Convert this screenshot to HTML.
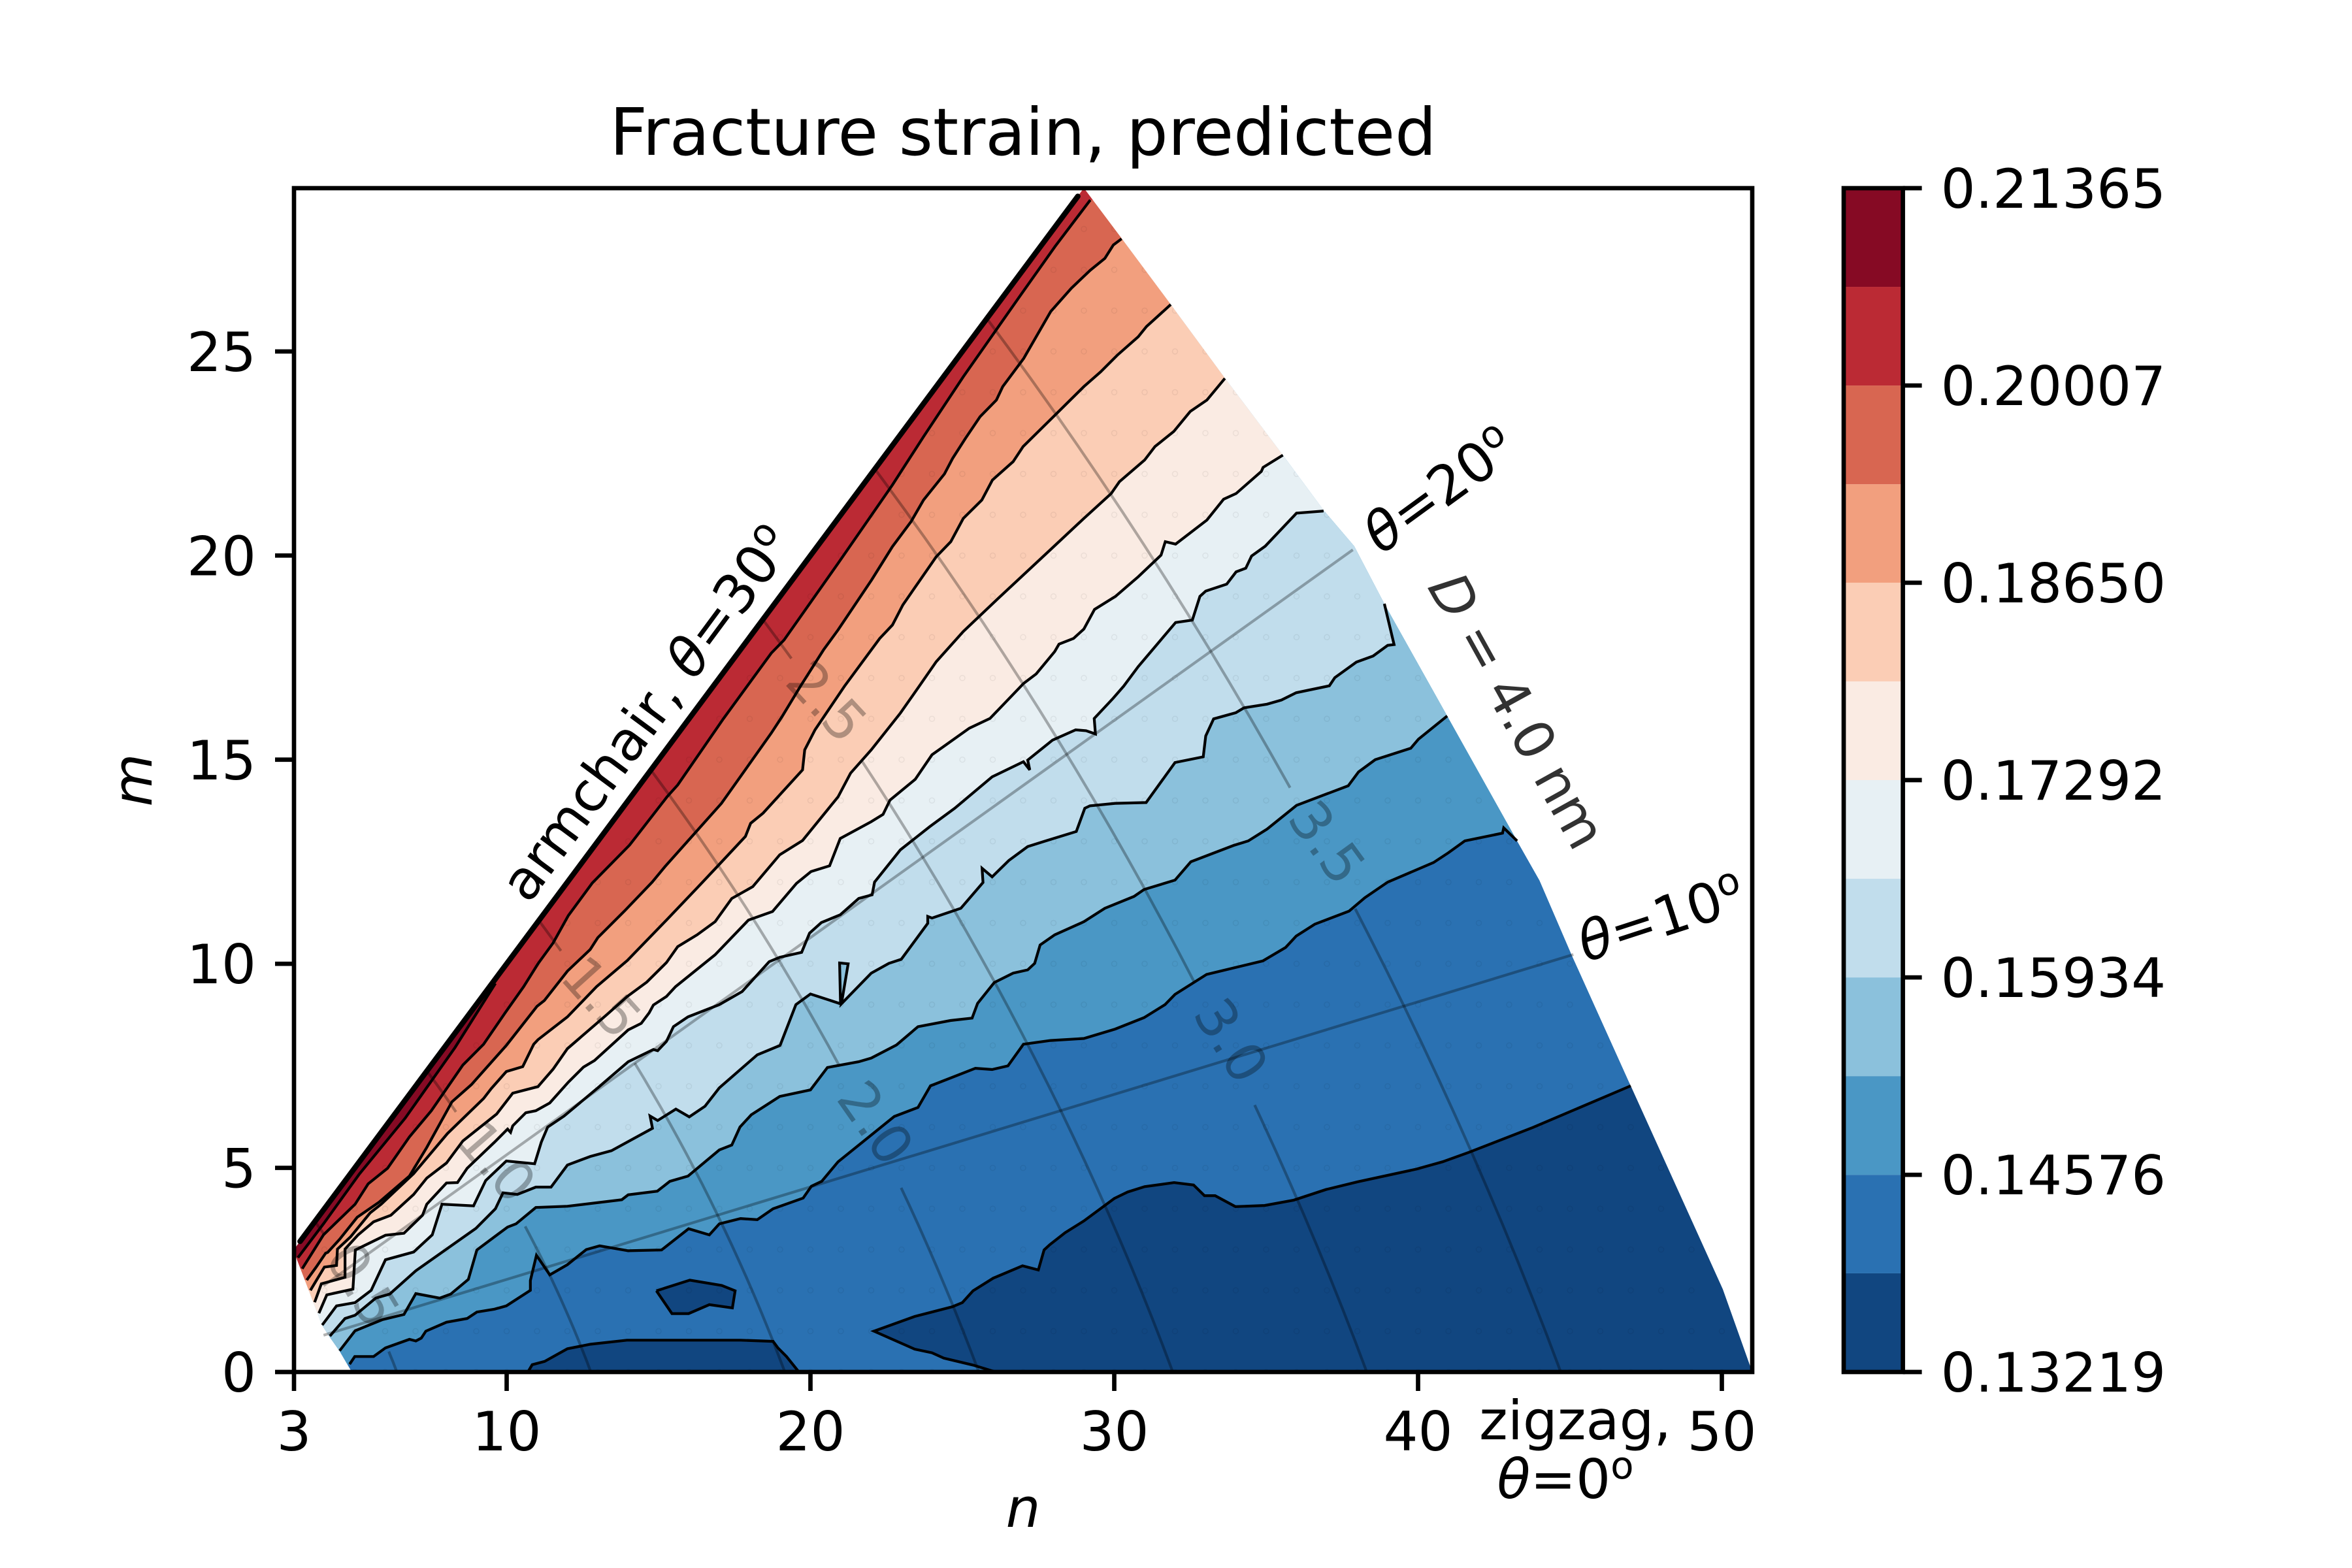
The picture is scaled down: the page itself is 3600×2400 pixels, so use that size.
<!DOCTYPE html>
<html lang="en">
<head>
<meta charset="utf-8">
<title>Fracture strain, predicted</title>
<style>
html,body{margin:0;padding:0;background:#fff;}
svg{display:block;}
text{font-family:"DejaVu Sans","Liberation Sans",sans-serif;fill:#000;}
</style>
</head>
<body>
<svg id="chart" xmlns="http://www.w3.org/2000/svg" width="3600" height="2400" viewBox="0 0 3600 2400">
  <rect x="0" y="0" width="3600" height="2400" fill="#fff"/>
  <defs><clipPath id="domain-clip"><path id="domain-clip-path"/></clipPath></defs>
  <g id="fills" clip-path="url(#domain-clip)"></g>
  <g id="points" clip-path="url(#domain-clip)"></g>
  <g id="lines"></g>
  <g id="guides"></g>
  <g id="guide-labels"></g>
  <g id="axes"></g>
  <g id="colorbar"></g>

  <text x="1566" y="237" font-size="100" text-anchor="middle">Fracture strain, predicted</text>
  <text x="1566" y="2337" font-size="83.33" font-style="italic" text-anchor="middle">n</text>
  <text transform="translate(232,1194) rotate(-90)" font-size="83.33" font-style="italic" text-anchor="middle">m</text>

  <text transform="translate(809,1385) rotate(-53.5)" font-size="83.33">armchair, <tspan font-style="italic">θ</tspan>=30<tspan dy="-30" font-size="58">o</tspan></text>
  <text transform="translate(2114,850) rotate(-36)" font-size="83.33"><tspan font-style="italic">θ</tspan>=20<tspan dy="-30" font-size="58">o</tspan></text>
  <text transform="translate(2427,1473) rotate(-18)" font-size="83.33"><tspan font-style="italic">θ</tspan>=10<tspan dy="-30" font-size="58">o</tspan></text>
  <text transform="translate(2184,898) rotate(61)" font-size="83.33" letter-spacing="-1.5" opacity="0.8"><tspan font-style="italic">D</tspan> = 4.0 nm</text>
  <text x="2411" y="2203" font-size="83.33" text-anchor="middle">zigzag,</text>
  <text x="2396" y="2293" font-size="83.33" text-anchor="middle"><tspan font-style="italic">θ</tspan>=0<tspan dy="-30" font-size="58">o</tspan></text>
</svg>

<script>
// ---- chart data (n, m chirality indices) ----
const xTicks = [3, 10, 20, 30, 40, 50];
const yTicks = [0, 5, 10, 15, 20, 25];
const colorLevels = [0.13219, 0.13898, 0.14576, 0.15255, 0.15934, 0.16613, 0.17292, 0.17971, 0.18650, 0.19328, 0.20007, 0.20686, 0.21365];
const colorTicks = ['0.13219', '0.14576', '0.15934', '0.17292', '0.18650', '0.20007', '0.21365'];
const bandColors = ['#114680', '#2a71b2', '#4a97c5', '#8bc1dc', '#c1ddec', '#e7f0f4', '#faebe3', '#fbcdb5', '#f29f7e', '#d86651', '#bb2a34', '#860a24'];

const domainBoundary = [[3,3],[29,29],[30.24,27.77],[31.86,26.15],[33.65,24.34],[35.54,22.47],[36.89,21.11],[37.9,20.23],[38.89,18.82],[40.96,16.07],[43.26,13.01],[44,12.04],[45.06,10.21],[46.4,8],[47,7.01],[50.03,2.03],[51,0],[4.9,0],[4.5,0.51],[4.18,0.85],[3.92,1.15],[3.5,1.97],[3.09,2.77]];

const islandA = [[10.7,0],[10.84,0.18],[11.25,0.26],[12,0.57],[12.76,0.68],[13.96,0.78],[14.96,0.78],[16.74,0.78],[17.7,0.78],[18.77,0.75],[18.93,0.59],[19.21,0.38],[19.62,0]];
const islandB = [[14.93,1.99],[16.03,2.25],[17.08,2.12],[17.52,1.99],[17.43,1.57],[16.67,1.65],[15.99,1.43],[15.44,1.43],[14.93,1.99]];
const islandC = [[26.1,0],[25.35,0.17],[24.39,0.34],[24,0.47],[23.43,0.56],[22.09,1],[23.43,1.36],[24,1.47],[24.68,1.6],[25,1.7],[25.35,1.99],[26.02,2.3],[26.98,2.6],[27.5,2.5],[27.69,2.99],[27.88,3.12],[28.38,3.41],[29,3.7],[30,4.25],[30.44,4.41],[31,4.54],[31.97,4.64],[32.61,4.58],[32.97,4.32],[33.32,4.32],[33.99,4.05],[34.95,4.08],[35.91,4.21],[36.97,4.47],[38.02,4.66],[39.94,4.97],[40.81,5.15],[41.67,5.38],[43.78,5.99],[47,7.01]];

const contour2 = [[4.83,0.19],[5,0.38],[5.62,0.38],[6.01,0.59],[6.8,0.8],[7.01,0.76],[7.19,0.83],[7.34,1],[8.02,1.22],[8.7,1.31],[9.02,1.47],[9.6,1.54],[9.99,1.62],[10.78,2],[10.78,2.24],[10.98,2.86],[11.42,2.38],[12,2.63],[12.62,3],[13.06,3.09],[14,2.97],[15.1,2.99],[15.99,3.51],[16.67,3.36],[17,3.63],[17.7,3.76],[18.25,3.73],[18.77,4],[19.76,4.26],[20.03,4.55],[20.37,4.67],[20.91,5.15],[22.76,6.26],[23.54,6.48],[23.95,7.01],[25.43,7.44],[25.98,7.41],[26.5,7.5],[27.01,8.03],[27.9,8.12],[29,8.17],[30.03,8.4],[30.98,8.68],[31.67,9],[32,9.25],[33.04,9.74],[34.89,10.07],[35.64,10.4],[35.99,10.68],[36.6,10.97],[37.73,11.29],[38.25,11.62],[39,12],[40.51,12.48],[41,12.72],[41.54,13.01],[42.78,13.2],[42.82,13.33],[43.26,13.01]];
const contour3 = [[4.5,0.52],[5.01,1.01],[5.9,1.28],[6.62,1.41],[7.01,1.92],[7.8,1.81],[8.16,1.91],[8.74,2.27],[9.02,2.99],[10.03,3.55],[10.31,3.63],[10.96,4.03],[12,4.06],[13.79,4.22],[14,4.34],[14.96,4.43],[15.37,4.67],[15.97,4.8],[17,5.44],[17.41,5.56],[17.68,6],[18.05,6.3],[18.99,6.75],[20,6.91],[20.56,7.46],[21.59,7.6],[22,7.69],[22.83,8.01],[23.54,8.46],[24.61,8.61],[25.32,8.67],[25.5,9.03],[26.05,9.54],[26.67,9.77],[27.15,9.85],[27.38,10.01],[27.56,10.46],[28.04,10.71],[29,11.03],[29.69,11.36],[30.65,11.65],[30.98,11.82],[32,12.05],[32.52,12.5],[33.93,12.9],[34.41,13.01],[35.03,13.3],[36,13.88],[37.7,14.36],[38.04,14.7],[38.59,15],[39.76,15.28],[40.01,15.5],[40.96,16.07]];
const contour4 = [[4.18,0.88],[4.68,1.31],[5.01,1.39],[5.69,1.81],[6.15,1.91],[7.01,2.48],[8.99,3.52],[9.63,4],[9.88,4.39],[10.35,4.35],[10.96,4.53],[11.46,4.53],[12,5.07],[12.75,5.28],[13.45,5.42],[14.8,5.97],[14.72,6.27],[14.97,6.16],[15.57,6.44],[16.01,6.25],[16.53,6.51],[17,6.96],[18.25,7.77],[19,8],[19.52,9],[20,9.26],[20.99,9.02],[20.96,10.02],[21.24,10],[21.02,9.02],[22,9.77],[22.58,10.01],[22.99,10.11],[23.86,10.99],[23.86,11.16],[24,11.12],[24.95,11.36],[25.68,11.99],[25.65,12.34],[25.98,12.13],[26.53,12.53],[27.15,12.87],[27.7,13],[28.75,13.24],[29.03,13.81],[29.2,13.87],[30.03,13.93],[31.05,13.95],[32,14.93],[32.93,15.07],[33.01,15.58],[33.27,16],[34,16.15],[34.27,16.27],[35.03,16.36],[35.5,16.46],[35.99,16.64],[37.08,16.81],[37.26,17.01],[37.97,17.39],[38.52,17.54],[39,17.8],[39.21,17.82],[38.89,18.82]];
const contour5 = [[3.93,1.15],[4.4,1.62],[5.01,1.7],[5.54,2],[6.01,2.75],[6.94,2.94],[7.55,3.36],[7.87,4.11],[8.91,4.07],[9.31,4.69],[9.99,5.17],[10.92,5.1],[11.14,5.63],[11.35,6],[11.89,6.27],[13,6.96],[14,7.6],[14.83,7.9],[14.97,7.87],[15.26,8.1],[15.49,8.46],[15.97,8.7],[17,9],[17.75,9.32],[18.64,10.05],[18.99,10.16],[19.71,10.28],[19.97,10.75],[20.36,11.01],[20.98,11.2],[21.59,11.6],[22.03,11.69],[22.11,12],[22.96,12.79],[23.93,13.36],[24.75,13.81],[25.98,14.58],[27.01,14.95],[27.22,14.75],[27.15,14.99],[27.97,15.48],[28.73,15.73],[29.07,15.71],[29.38,15.63],[29.34,16.01],[29.96,16.5],[30.31,16.8],[30.79,17.28],[32.02,18.36],[32.57,18.42],[32.82,19],[33.01,19.13],[33.7,19.3],[34.01,19.6],[34.33,19.69],[34.52,19.99],[34.97,20.23],[36,21.04],[36.89,21.09]];
const contour6 = [[3.82,1.44],[4.08,1.89],[4.94,2.03],[5.02,2.99],[6.01,3.35],[6.62,3.4],[7.23,3.84],[7.37,4.11],[8.02,4.63],[8.38,4.64],[8.7,4.99],[9.6,5.63],[10.03,5.95],[10.13,5.87],[10.2,6.03],[10.63,6.35],[10.96,6.4],[11.42,6.59],[12.03,7.1],[12.53,7.47],[12.89,7.63],[14,8.38],[14.43,8.54],[14.69,8.8],[14.83,8.99],[15.26,9.2],[15.56,9.44],[16.86,10.22],[17.96,11.07],[18.75,11.28],[19.54,11.97],[20.02,12.26],[20.63,12.4],[20.98,13.07],[22,13.48],[22.39,13.66],[22.62,14.01],[23.45,14.52],[24,15.12],[25.23,15.77],[25.91,16.01],[27.02,16.87],[27.43,17.1],[28.04,17.65],[28.18,17.83],[28.66,17.97],[29,18.2],[29.35,18.68],[30.04,19],[30.79,19.48],[31.54,20.01],[31.68,20.34],[32.02,20.28],[33.05,20.87],[33.6,21.38],[34.01,21.52],[34.84,22.06],[34.9,22.16],[35.55,22.46]];
const contour7 = [[3.68,1.71],[3.9,2.16],[4.68,2.32],[4.68,3.01],[5.11,3.36],[5.62,3.68],[6.19,3.84],[6.94,4.35],[7.37,4.75],[8.02,5.12],[8.56,5.66],[9.67,6.32],[10.2,6.83],[11.03,6.99],[11.53,7.42],[12,7.92],[13.29,8.75],[13.97,9.2],[14.61,9.55],[15.26,10.03],[15.63,10.42],[16.27,10.71],[16.86,11.03],[17.41,11.6],[18.1,11.89],[18.99,12.67],[19.74,13.02],[20.91,14.09],[21.32,14.67],[22,15.24],[22.96,16.14],[23.59,16.81],[24.14,17.4],[25.03,18.14],[26.12,18.91],[27.98,20.2],[29,20.91],[29.9,21.52],[30.17,21.81],[31,22.34],[31.34,22.67],[31.96,23.04],[32.5,23.53],[33.05,23.81],[33.33,24.06],[33.64,24.34]];
const contour8 = [[3.54,2],[4,2.57],[4.4,2.61],[4.43,3.01],[4.86,3.31],[5.51,3.9],[5.87,4.11],[6.94,4.86],[8.05,5.84],[9.24,6.7],[9.49,6.94],[9.99,7.36],[10.53,7.48],[10.89,8.03],[11.03,8.14],[12,8.7],[12.96,9.44],[13.97,10.08],[15.26,11.07],[16.31,11.89],[16.93,12.38],[17.86,13.12],[18.03,13.44],[18.44,13.69],[19.74,14.75],[19.81,15.24],[20.15,15.73],[21.12,16.8],[22.28,17.97],[22.7,18.3],[23.04,18.79],[24.14,19.97],[24.62,20.34],[25.03,20.91],[25.64,21.36],[25.99,21.85],[26.67,22.3],[27,22.67],[28.05,23.44],[29,24.14],[29.55,24.5],[30.1,24.91],[30.79,25.36],[31.06,25.61],[31.86,26.15]];
const contour9 = [[3.42,2.25],[3.72,2.56],[4.04,2.91],[4.11,2.93],[4.5,3.25],[5.08,3.79],[5.8,4.16],[6.8,4.8],[7.37,5.5],[8.2,6.62],[8.84,7.04],[9.99,8],[11,8.96],[11.24,9.1],[12,9.82],[12.75,10.35],[13,10.64],[13.9,11.31],[14.79,12],[15.21,12.38],[17.07,13.93],[18.71,15.65],[19.06,16.05],[19.68,16.81],[20.43,17.69],[20.91,18.18],[22.01,19.4],[22.7,20.22],[23.31,20.83],[23.72,21.36],[24.41,22],[24.68,22.38],[25.1,22.87],[25.58,23.4],[26.12,23.81],[26.33,24.14],[27.02,24.83],[27.91,25.98],[28.59,26.55],[29.21,26.99],[29.69,27.28],[29.97,27.61],[30.24,27.76]];
const contour10 = [[3.27,2.53],[3.97,3.36],[5.01,4.11],[5.44,4.61],[6.08,4.99],[6.8,5.76],[7.52,6.4],[8.56,7.52],[9.24,8.03],[9.95,8.8],[10.56,9.44],[11.03,10],[11.53,10.51],[12.03,11.18],[12.82,11.98],[14.05,12.91],[15.28,14.09],[15.63,14.38],[17.14,16.01],[18.71,17.61],[19.13,17.93],[20.91,19.81],[22.7,21.73],[23.72,22.91],[25.03,24.38],[26.88,26.34],[28.05,27.57],[29.21,28.71]];
const contour11 = [[3.13,2.8],[3.97,3.63],[5.15,4.85],[6.66,6.22],[8.3,7.95],[9.63,9.52]];
const armchairEdge = [[3.2,3.2],[28.8,28.8]];

const diameterLevels = [0.5, 1.0, 1.5, 2.0, 2.5, 3.0, 3.5];
const diameterGapStart = [3.9, 14, 20, 8.8, 24, 8.5, 12.7];
const diameterGapEnd = [27.4, 25.6, 27.8, 14.7, 28.3, 12.5, 16.1];
const diameterLabels = ['0.5', '1.0', '1.5', '2.0', '2.5', '3.0', '3.5'];
const labelN = [5.28, 9.67, 13.13, 22.16, 20.55, 33.86, 37.02];
const labelM = [2.14, 5.17, 9.19, 6.11, 16.43, 8.13, 12.98];
const thetaLevels = [10, 20];
const thetaStartIndex = [4.49, 5.35];
const thetaEndIndex = [51, 51];

// ---- axis functions ----
const AX = {left: 450, right: 2682, top: 288, bottom: 2100, xMin: 3, xMax: 51, yMin: 0, yMax: 29};
function xScale(n) { return AX.left + (n - AX.xMin) / (AX.xMax - AX.xMin) * (AX.right - AX.left); }
function yScale(m) { return AX.bottom - (m - AX.yMin) / (AX.yMax - AX.yMin) * (AX.bottom - AX.top); }
const CB = {left: 2822, right: 2912.6};
function cbScale(v) {
  const lo = colorLevels[0], hi = colorLevels[colorLevels.length - 1];
  return AX.bottom - (v - lo) / (hi - lo) * (AX.bottom - AX.top);
}
function toPath(points, close) {
  let d = '';
  for (let i = 0; i < points.length; i++) {
    d += (i ? 'L' : 'M') + xScale(points[i][0]).toFixed(1) + ' ' + yScale(points[i][1]).toFixed(1);
  }
  return d + (close ? 'Z' : '');
}
const NS = 'http://www.w3.org/2000/svg';
function make(tag, parentId) {
  const el = document.createElementNS(NS, tag);
  document.getElementById(parentId).appendChild(el);
  return el;
}
function closeUpLeft(line) {
  const a = line[0], b = line[line.length - 1];
  return line.concat([[60, b[1]], [60, 40], [0, 40], [0, a[1]]]);
}

document.getElementById('domain-clip-path').setAttribute('d', toPath(domainBoundary, true));

// ---- fills ----
const baseFill = make('path', 'fills');


baseFill.setAttribute('d', toPath(domainBoundary, true));
baseFill.setAttribute('fill', bandColors[1]);

const islandShapes = [islandA, islandB, islandC.concat([[60, 7.01], [60, 0]])];
for (const shape of islandShapes) {
  const el = make('path', 'fills');
  
  
  el.setAttribute('d', toPath(shape, true));
  el.setAttribute('fill', bandColors[0]);
}
const stackedContours = [contour2, contour3, contour4, contour5, contour6, contour7, contour8, contour9, contour10, contour11];
stackedContours.forEach(function (line, i) {
  const el = make('path', 'fills');
  
  
  const poly = i === stackedContours.length - 1
    ? line.concat([[line[line.length - 1][0], 40], [0, 40], [0, line[0][1]]])
    : closeUpLeft(line);
  el.setAttribute('d', toPath(poly, true));
  el.setAttribute('fill', bandColors[i + 2]);
});

// ---- faint sample points on integer chirality grid ----
for (let n = 3; n <= 51; n++) {
  for (let m = 0; m <= n; m++) {
    const idx = Math.sqrt(n * n + n * m + m * m);
    if (idx < 4.9 || idx > 51) continue;
    const c = make('circle', 'points');
    
    
    c.setAttribute('cx', xScale(n));
    c.setAttribute('cy', yScale(m));
    c.setAttribute('r', 4);
    c.setAttribute('fill', 'none');
    c.setAttribute('stroke', 'rgba(0,0,0,0.06)');
    c.setAttribute('stroke-width', 1.5);
  }
}

// ---- contour lines ----
const openLines = [islandA, islandB, islandC].concat(stackedContours);
for (const line of openLines) {
  const el = make('path', 'lines');
  
  
  el.setAttribute('d', toPath(line, false));
  el.setAttribute('fill', 'none');
  el.setAttribute('stroke', '#000');
  el.setAttribute('stroke-width', 4.2);
  el.setAttribute('stroke-linejoin', 'miter');
  el.setAttribute('stroke-miterlimit', 4);
}
const edge = make('path', 'lines');


edge.setAttribute('d', toPath(armchairEdge, false));
edge.setAttribute('fill', 'none');
edge.setAttribute('stroke', '#000');
edge.setAttribute('stroke-width', 8.3);
edge.setAttribute('stroke-linecap', 'round');

// ---- diameter and angle guides ----
const INDEX_PER_NM = Math.PI / 0.246;
function chirality(L, deg) {
  const t = deg * Math.PI / 180;
  return [L * (Math.cos(t) - Math.sin(t) / Math.sqrt(3)), 2 * L * Math.sin(t) / Math.sqrt(3)];
}
function arc(L, from, to) {
  const pts = [];
  for (let a = from; a < to; a += 1) pts.push(chirality(L, a));
  pts.push(chirality(L, to));
  return pts;
}
diameterLevels.forEach(function (D, i) {
  const L = D * INDEX_PER_NM;
  const segs = [arc(L, 0, diameterGapStart[i]), arc(L, diameterGapEnd[i], 30)];
  for (const seg of segs) {
    const el = make('path', 'guides');
    
    
    el.setAttribute('d', toPath(seg, false));
    el.setAttribute('fill', 'none');
    el.setAttribute('stroke', '#000');
    el.setAttribute('stroke-opacity', 0.3);
    el.setAttribute('stroke-width', 4.2);
  }
});
thetaLevels.forEach(function (deg, i) {
  const el = make('path', 'guides');
  
  
  el.setAttribute('d', toPath([chirality(thetaStartIndex[i], deg), chirality(thetaEndIndex[i], deg)], false));
  el.setAttribute('fill', 'none');
  el.setAttribute('stroke', '#000');
  el.setAttribute('stroke-opacity', 0.3);
  el.setAttribute('stroke-width', 4.2);
});

// inline contour labels: text direction follows each curve
const labelRotation = [59, 49, 48, 55, 47, 58, 54];
diameterLabels.forEach(function (txt, i) {
  const t = make('text', 'guide-labels');
  
  
  t.setAttribute('transform', 'translate(' + xScale(labelN[i]).toFixed(1) + ',' + yScale(labelM[i]).toFixed(1) + ') rotate(' + labelRotation[i] + ')');
  t.setAttribute('font-size', 83.33);
  t.setAttribute('text-anchor', 'middle');
  t.setAttribute('y', 30);
  t.setAttribute('style', 'fill:#000;fill-opacity:0.3');
  t.textContent = txt;
});

// ---- axes ----
const TICK = 29, SPINE = 6.67;
const frame = make('rect', 'axes');


frame.setAttribute('x', AX.left);
frame.setAttribute('y', AX.top);
frame.setAttribute('width', AX.right - AX.left);
frame.setAttribute('height', AX.bottom - AX.top);
frame.setAttribute('fill', 'none');
frame.setAttribute('stroke', '#000');
frame.setAttribute('stroke-width', SPINE);

for (const v of xTicks) {
  const x = xScale(v);
  const l = make('line', 'axes');
  
  
  l.setAttribute('x1', x); l.setAttribute('x2', x);
  l.setAttribute('y1', AX.bottom); l.setAttribute('y2', AX.bottom + TICK);
  l.setAttribute('stroke', '#000'); l.setAttribute('stroke-width', SPINE);
  const t = make('text', 'axes');
  
  
  t.setAttribute('x', x); t.setAttribute('y', 2220);
  t.setAttribute('font-size', 83.33); t.setAttribute('text-anchor', 'middle');
  t.textContent = v;
}
for (const v of yTicks) {
  const y = yScale(v);
  const l = make('line', 'axes');
  
  
  l.setAttribute('x1', AX.left - TICK); l.setAttribute('x2', AX.left);
  l.setAttribute('y1', y); l.setAttribute('y2', y);
  l.setAttribute('stroke', '#000'); l.setAttribute('stroke-width', SPINE);
  const t = make('text', 'axes');
  
  
  t.setAttribute('x', 392); t.setAttribute('y', y + 30);
  t.setAttribute('font-size', 83.33); t.setAttribute('text-anchor', 'end');
  t.textContent = v;
}

// ---- colorbar ----
bandColors.forEach(function (col, i) {
  const r = make('rect', 'colorbar');
  
  
  const yTop = cbScale(colorLevels[i + 1]), yBot = cbScale(colorLevels[i]);
  r.setAttribute('x', CB.left);
  r.setAttribute('y', yTop);
  r.setAttribute('width', CB.right - CB.left);
  r.setAttribute('height', yBot - yTop);
  r.setAttribute('fill', col);
});
const cbFrame = make('rect', 'colorbar');


cbFrame.setAttribute('x', CB.left);
cbFrame.setAttribute('y', AX.top);
cbFrame.setAttribute('width', CB.right - CB.left);
cbFrame.setAttribute('height', AX.bottom - AX.top);
cbFrame.setAttribute('fill', 'none');
cbFrame.setAttribute('stroke', '#000');
cbFrame.setAttribute('stroke-width', SPINE);
for (const s of colorTicks) {
  const y = cbScale(parseFloat(s));
  const l = make('line', 'colorbar');
  
  
  l.setAttribute('x1', CB.right); l.setAttribute('x2', CB.right + TICK);
  l.setAttribute('y1', y); l.setAttribute('y2', y);
  l.setAttribute('stroke', '#000'); l.setAttribute('stroke-width', SPINE);
  const t = make('text', 'colorbar');
  
  
  t.setAttribute('x', CB.right + TICK + 29); t.setAttribute('y', y + 30);
  t.setAttribute('font-size', 83.33);
  t.textContent = s;
}
</script>
</body>
</html>
